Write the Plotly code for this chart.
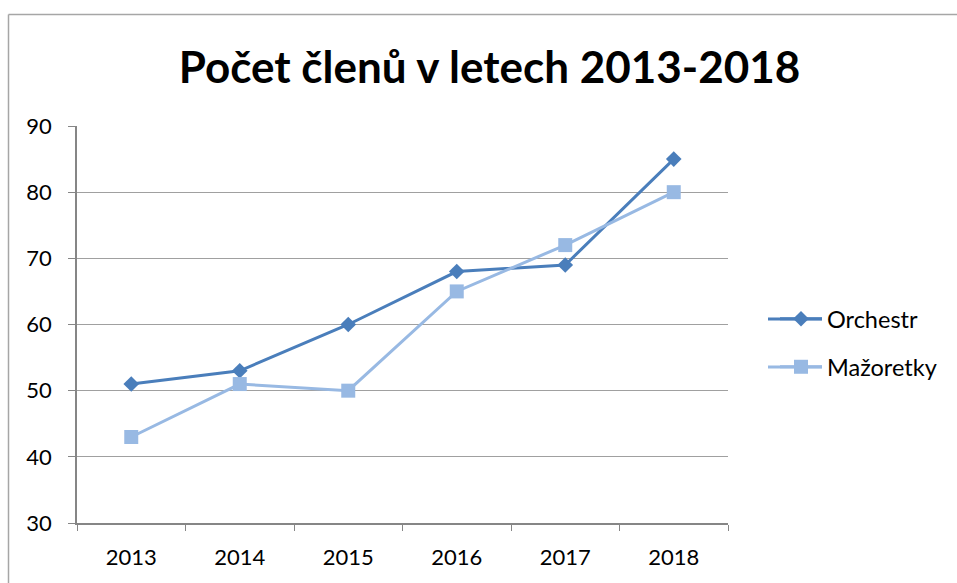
import plotly.graph_objects as go

years = ["2013", "2014", "2015", "2016", "2017", "2018"]
orchestr = [51, 53, 60, 68, 69, 85]
mazoretky = [43, 51, 50, 65, 72, 80]
y_ticks = [30, 40, 50, 60, 70, 80, 90]

FONT = "Lato"
W, H = 957, 583
# plot area in screen pixels
L, R, T, B = 77, 728, 126, 523

C1 = "#4A7EBB"
C2 = "#98B9E3"

def px_x(p):
    return (p - L) / (R - L)

def px_y(p):
    return (B - p) / (B - T)

fig = go.Figure()
fig.add_trace(go.Scatter(
    x=years, y=orchestr, name="Orchestr", mode="lines+markers",
    line=dict(color=C1, width=3),
    marker=dict(symbol="diamond", size=12, color=C1),
    legend="legend",
))
fig.add_trace(go.Scatter(
    x=years, y=mazoretky, name="Mažoretky", mode="lines+markers",
    line=dict(color=C2, width=3),
    marker=dict(symbol="square", size=14, color=C2),
    legend="legend2",
))

fig.update_layout(
    width=W, height=H,
    margin=dict(l=L, r=W - R, t=T, b=H - B),
    paper_bgcolor="white", plot_bgcolor="white",
    font=dict(family=FONT, size=22, color="black"),
    title=dict(text="<b>Počet členů v letech 2013-2018</b>",
               x=489.5 / W, xanchor="center", y=1 - 68 / H, yanchor="middle",
               font=dict(family=FONT, size=44, color="black")),
    xaxis=dict(type="category", showgrid=False, showline=True, linecolor="#868686",
               linewidth=1.5, ticks="outside", tickson="boundaries", ticklen=6,
               tickcolor="#868686", ticklabelstandoff=14, range=[-0.5, 5.5],
               tickfont=dict(size=22)),
    yaxis=dict(range=[30, 90], tickvals=y_ticks, showgrid=True, gridcolor="#A0A0A0",
               gridwidth=1.2, showline=True, linecolor="#868686", linewidth=1.5,
               ticks="outside", ticklen=7, tickcolor="#868686", ticklabelstandoff=12,
               zeroline=False, tickfont=dict(size=22)),
    legend=dict(x=px_x(775), y=px_y(319), xanchor="left", yanchor="middle",
                font=dict(size=23.5), bgcolor="rgba(0,0,0,0)", itemwidth=42),
    legend2=dict(x=px_x(775), y=px_y(367), xanchor="left", yanchor="middle",
                 font=dict(size=23.5), bgcolor="rgba(0,0,0,0)", itemwidth=42),
    showlegend=True,
)

# chart frame (top and left edges visible in the reference)
fig.add_shape(type="line", xref="paper", yref="paper",
              x0=px_x(8.5), x1=px_x(1200), y0=px_y(14.5), y1=px_y(14.5),
              line=dict(color="#A6A6A6", width=1.5), layer="below")
fig.add_shape(type="line", xref="paper", yref="paper",
              x0=px_x(8.5), x1=px_x(8.5), y0=px_y(14.5), y1=px_y(900),
              line=dict(color="#A6A6A6", width=1.5), layer="below")
# longer legend key lines (Excel style)
for yy, col in [(319, C1), (367, C2)]:
    fig.add_shape(type="line", xref="paper", yref="paper",
                  x0=px_x(768), x1=px_x(822), y0=px_y(yy), y1=px_y(yy),
                  line=dict(color=col, width=3))

fig.write_html(
    "out.html",
    config={"displayModeBar": False},
    post_script="document.body.style.margin='0';document.body.style.overflow='hidden';",
)
